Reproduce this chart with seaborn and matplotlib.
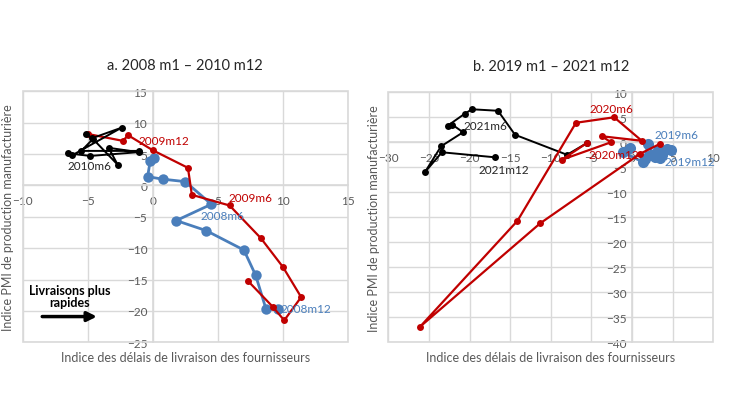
import pandas as pd
import matplotlib.pyplot as plt
from matplotlib.patches import Rectangle
import seaborn as sns

sns.set_style('white')
plt.rcParams['font.family'] = ['Lato', 'DejaVu Sans']

BLUE = '#4A7EBB'
RED = '#C00000'
BLACK = '#000000'
GREY = '#595959'
GRID = '#D9D9D9'

# panel a : 2008 - 2010
x_2008 = [0.1, -0.2, -0.4, 0.75, 2.5, 4.5, 1.8, 4.1, 7.0, 7.9, 8.7, 9.6]
y_2008 = [4.4, 3.9, 1.4, 1.0, 0.6, -3.0, -5.6, -7.2, -10.3, -14.3, -19.7, -19.7]
x_2009 = [7.3, 9.2, 10.1, 11.4, 10.0, 8.3, 5.9, 3.0, 2.7, 0.0, -1.9, -2.3, -5.0]
y_2009 = [-15.2, -19.3, -21.5, -17.8, -13.0, -8.4, -3.2, -1.5, 2.8, 5.6, 8.0, 7.1, 8.2]
x_2010 = [-5.1, -4.7, -2.4, -6.2, -6.5, -4.8, -1.1, -3.4, -2.7, -4.6, -5.5, -1.1]
y_2010 = [8.2, 7.5, 9.2, 4.8, 5.1, 4.7, 5.3, 6.0, 3.3, 7.4, 5.5, 5.5]

# panel b : 2019 - 2021
x_2019 = [-0.3, -1.1, 1.4, 2.0, 2.8, 4.3, 1.6, 3.2, 2.3, 3.7, 4.8, 3.4]
y_2019 = [-1.1, -2.0, -4.0, -0.4, -3.0, -1.3, -3.3, -1.5, -2.6, -2.6, -1.6, -3.2]
x_2020 = [3.45, 1.0, -11.3, -26.1, -14.1, -6.9, -2.2, 1.2, -3.7, -2.6, -8.65, -5.6]
y_2020 = [-0.3, -2.3, -16.2, -36.9, -15.7, 3.9, 5.0, 0.3, 1.2, 0.0, -3.5, -0.2]
x_2021 = [-5.6, -8.0, -14.4, -16.5, -19.7, -20.6, -22.7, -22.1, -20.8, -23.5, -25.5, -23.4, -16.9]
y_2021 = [-0.2, -2.5, 1.5, 6.3, 6.6, 5.7, 3.3, 3.5, 2.0, -0.8, -6.0, -2.0, -3.0]

labels_a = [('2009m12', 0.87, 7.1, RED), ('2009m6', 7.5, -1.85, RED),
            ('2008m6', 5.37, -4.83, BLUE), ('2008m12', 11.75, -19.55, BLUE),
            ('2010m6', -4.9, 3.14, '#262626')]
labels_b = [('2020m6', -2.52, 6.66, RED), ('2021m6', -18.1, 3.26, '#262626'),
            ('2021m12', -15.75, -5.48, '#262626'), ('2019m6', 5.48, 1.46, BLUE),
            ('2019m12', 7.14, -3.94, BLUE), ('2020m12', -2.2, -2.54, RED)]


def draw_series(ax, xs, ys, color, ms, lw):
    df = pd.DataFrame({'x': xs, 'y': ys})
    sns.lineplot(data=df, x='x', y='y', sort=False, estimator=None, ax=ax,
                 color=color, lw=lw, marker='o', markersize=ms,
                 markeredgewidth=0, zorder=3)


def style_axes(ax, xlim, ylim, title):
    ax.set_xlim(*xlim)
    ax.set_ylim(*ylim)
    ax.set_xticks(range(xlim[0], xlim[1] + 1, 5))
    ax.set_yticks(range(ylim[0], ylim[1] + 1, 5))
    ax.grid(True, color=GRID, lw=1)
    ax.set_axisbelow(True)
    ax.spines['left'].set_position(('data', 0))
    ax.spines['bottom'].set_position(('data', 0))
    for s in ['left', 'bottom']:
        ax.spines[s].set_color(GRID)
        ax.spines[s].set_linewidth(1.2)
    for s in ['top', 'right']:
        ax.spines[s].set_visible(False)
    ax.add_patch(Rectangle((0, 0), 1, 1, transform=ax.transAxes, fill=False,
                           ec=GRID, lw=1.2, clip_on=False))
    ax.tick_params(axis='x', length=0, pad=7, labelsize=8.5, labelcolor=GREY)
    ax.tick_params(axis='y', length=0, pad=4, labelsize=8.5, labelcolor=GREY)
    ax.set_xlabel('')
    ax.set_ylabel('')
    ax.text(0.5, -0.035, 'Indice des délais de livraison des fournisseurs',
            transform=ax.transAxes, ha='center', va='top', fontsize=9, color=GREY)
    ax.text(-0.045, 0.5, 'Indice PMI de production manufacturière',
            transform=ax.transAxes, ha='center', va='center', rotation=90,
            fontsize=9, color=GREY)
    ax.set_title(title, fontsize=10.5, color='#262626', pad=16)


fig = plt.figure(figsize=(7.3, 4.1), dpi=100)
ax1 = fig.add_axes([0.0311, 0.1627, 0.4456, 0.6122])
ax2 = fig.add_axes([0.5319, 0.1627, 0.4452, 0.6098])

draw_series(ax1, x_2008, y_2008, BLUE, 7.5, 2.0)
draw_series(ax1, x_2009, y_2009, RED, 5, 1.6)
draw_series(ax1, x_2010, y_2010, BLACK, 5, 1.4)
style_axes(ax1, (-10, 15), (-25, 15), 'a. 2008 m1 – 2010 m12')
for t, x, y, c in labels_a:
    ax1.text(x, y, t, color=c, fontsize=8.5, ha='center', va='center', zorder=5)
ax1.annotate('', xy=(-4.3, -20.9), xytext=(-8.5, -20.9),
             arrowprops=dict(arrowstyle='-|>', color=BLACK, lw=2.5,
                             mutation_scale=14, shrinkA=0, shrinkB=0))
ax1.text(-6.4, -17.6, 'Livraisons plus\nrapides', ha='center', va='center',
         fontsize=9, fontweight='bold', color=BLACK, linespacing=1.0)

draw_series(ax2, x_2019, y_2019, BLUE, 8, 2.0)
draw_series(ax2, x_2021, y_2021, BLACK, 5, 1.4)
draw_series(ax2, x_2020, y_2020, RED, 5, 1.6)
style_axes(ax2, (-30, 10), (-40, 10), 'b. 2019 m1 – 2021 m12')
for t, x, y, c in labels_b:
    ax2.text(x, y, t, color=c, fontsize=8.5, ha='center', va='center', zorder=5)

fig.savefig('out.png', dpi=100)
